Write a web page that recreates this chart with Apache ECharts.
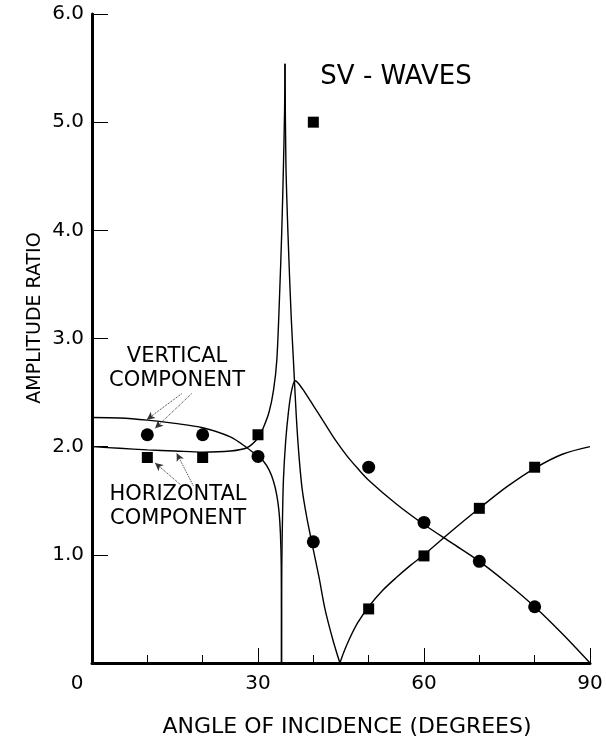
<!DOCTYPE html>
<html>
<head>
<meta charset="utf-8">
<script src="https://cdn.jsdelivr.net/npm/echarts@6/dist/echarts.min.js"></script>
<style>
  html, body { margin: 0; padding: 0; background: #fff; }
  #chart { width: 606px; height: 737px; }
</style>
</head>
<body>
<div id="chart"></div>
<script>
// Observed amplitude ratios at each angle of incidence (degrees)
const angles = [10, 20, 30, 40, 50, 60, 70, 80];
const verticalObserved = [2.11, 2.11, 1.91, 1.12, 1.81, 1.30, 0.94, 0.52];
const horizontalObserved = [1.90, 1.90, 2.11, 5.00, 0.50, 0.99, 1.43, 1.81];

// Theoretical curves, [angle, amplitude ratio]
const verticalBelowCritical = [
  [0, 2.27], [5, 2.265], [10, 2.245], [15, 2.215], [20, 2.175], [25, 2.09],
  [28, 1.99], [30, 1.91], [31, 1.865], [32, 1.785], [32.8, 1.68], [33.4, 1.55],
  [33.8, 1.4], [34.05, 1.2], [34.2, 0.9], [34.25, 0]
];
const verticalAboveCritical = [
  [34.25, 0], [34.3, 0.9], [34.45, 1.4], [34.6, 1.7], [35, 2.05], [35.5, 2.32],
  [36, 2.5], [36.7, 2.61], [37.4, 2.58], [38.5, 2.5], [40, 2.38], [42, 2.22],
  [44, 2.06], [46, 1.92], [48, 1.8], [50, 1.69], [55, 1.47], [60, 1.28],
  [65, 1.11], [70, 0.94], [75, 0.74], [80, 0.52], [85, 0.27], [90, 0]
];
const horizontalToPeak = [
  [0, 2.0], [5, 1.985], [10, 1.97], [15, 1.96], [20, 1.95], [25, 1.96],
  [28, 1.99], [30, 2.08], [31, 2.18], [32, 2.32], [32.8, 2.52], [33.4, 2.8],
  [33.9, 3.4], [34.3, 4.0], [34.6, 4.6], [34.8, 5.1], [34.88, 5.54]
];
const horizontalFromPeak = [
  [34.88, 5.54], [35.05, 4.6], [35.5, 3.85], [36.0, 3.2], [36.4, 2.8],
  [36.9, 2.3], [37.4, 1.92], [38.0, 1.6], [38.8, 1.35], [39.7, 1.12],
  [41, 0.8], [42.1, 0.5], [43.5, 0.22], [44.8, 0]
];
const horizontalRise = [
  [44.8, 0], [45.5, 0.1], [46.5, 0.22], [48, 0.37], [50, 0.52], [52.5, 0.67],
  [55, 0.79], [57.5, 0.9], [60, 1.0], [65, 1.22], [70, 1.43], [75, 1.63],
  [80, 1.8], [85, 1.93], [90, 2.0]
];

// Axis ranges and ticks
const xMin = 0, xMax = 90, xStep = 30;
const yMin = 0, yMax = 6, yStep = 1;

// Leader arrows for the component labels: [from, to] in data coordinates
const verticalArrows = [
  [[16.2, 2.49], [9.9, 2.25]],
  [[18.0, 2.49], [11.4, 2.17]]
];
const horizontalArrows = [
  [[16.2, 1.64], [11.4, 1.85]],
  [[18.3, 1.64], [15.3, 1.94]]
];

const FONT = 'DejaVu Sans';
const INK = '#000';

const chart = echarts.init(document.getElementById('chart'), null, { renderer: 'canvas' });

const curveStyle = { color: INK, width: 1.4 };
function curve(name, data) {
  return {
    name, type: 'line', data, symbol: 'none', smooth: 0.3,
    lineStyle: curveStyle, silent: true, z: 2
  };
}
function arrowLines(list) {
  return list.map(([a, b]) => [{ coord: a }, { coord: b }]);
}
const arrowStyle = {
  silent: true, symbol: ['none', 'arrow'], symbolSize: [6, 8],
  lineStyle: { color: '#333', width: 1, type: 'dotted' },
  label: { show: false }
};

chart.setOption({
  animation: false,
  backgroundColor: '#fff',
  grid: { left: 92, right: 16, top: 14, bottom: 74 },
  xAxis: {
    type: 'value', min: xMin, max: xMax, interval: xStep,
    axisLine: { lineStyle: { color: INK, width: 3 } },
    axisTick: { inside: true, length: 15, lineStyle: { color: INK, width: 1 } },
    minorTick: { show: true, splitNumber: 3, length: 8, lineStyle: { color: INK, width: 1 } },
    splitLine: { show: false },
    axisLabel: {
      margin: 11, color: INK, fontSize: 20, fontFamily: FONT,
      formatter: v => (v === 0 ? '{z|0}' : String(v)),
      rich: { z: { fontSize: 20, fontFamily: FONT, color: INK, padding: [0, 30, 0, 0] } }
    }
  },
  yAxis: {
    type: 'value', min: yMin, max: yMax, interval: yStep,
    axisLine: { show: true, lineStyle: { color: INK, width: 3 } },
    axisTick: { show: true, inside: true, length: 16, lineStyle: { color: INK, width: 1 } },
    splitLine: { show: false },
    axisLabel: {
      margin: 8, color: INK, fontSize: 20, fontFamily: FONT,
      formatter: v => (v === 0 ? '' : v.toFixed(1))
    }
  },
  series: [
    curve('Vertical (below critical)', verticalBelowCritical),
    curve('Vertical (above critical)', verticalAboveCritical),
    curve('Horizontal (to peak)', horizontalToPeak),
    curve('Horizontal (from peak)', horizontalFromPeak),
    curve('Horizontal (rise)', horizontalRise),
    {
      name: 'Vertical component', type: 'scatter', symbol: 'circle', symbolSize: 13,
      data: angles.map((a, i) => [a, verticalObserved[i]]),
      itemStyle: { color: INK, opacity: 1 }, z: 3,
      markLine: Object.assign({ data: arrowLines(verticalArrows) }, arrowStyle)
    },
    {
      name: 'Horizontal component', type: 'scatter', symbol: 'rect', symbolSize: 11,
      data: angles.map((a, i) => [a, horizontalObserved[i]]),
      itemStyle: { color: INK, opacity: 1 }, z: 3,
      markLine: Object.assign({ data: arrowLines(horizontalArrows) }, arrowStyle)
    }
  ],
  graphic: [
    {
      type: 'text', x: 396, y: 77,
      style: {
        text: 'SV - WAVES', font: `26px "${FONT}"`, fill: INK,
        align: 'center', verticalAlign: 'middle'
      }
    },
    {
      type: 'text', x: 177, y: 369,
      style: {
        text: 'VERTICAL\nCOMPONENT', font: `21px "${FONT}"`, fill: INK,
        align: 'center', verticalAlign: 'middle', lineHeight: 24
      }
    },
    {
      type: 'text', x: 178, y: 507,
      style: {
        text: 'HORIZONTAL\nCOMPONENT', font: `21px "${FONT}"`, fill: INK,
        align: 'center', verticalAlign: 'middle', lineHeight: 24
      }
    },
    {
      type: 'text', x: 35, y: 318, rotation: Math.PI / 2,
      style: {
        text: 'AMPLITUDE RATIO', font: `19px "${FONT}"`, fill: INK,
        align: 'center', verticalAlign: 'middle'
      }
    },
    {
      type: 'text', x: 347, y: 727,
      style: {
        text: 'ANGLE OF INCIDENCE (DEGREES)', font: `22px "${FONT}"`, fill: INK,
        align: 'center', verticalAlign: 'middle'
      }
    }
  ]
});
</script>
</body>
</html>
